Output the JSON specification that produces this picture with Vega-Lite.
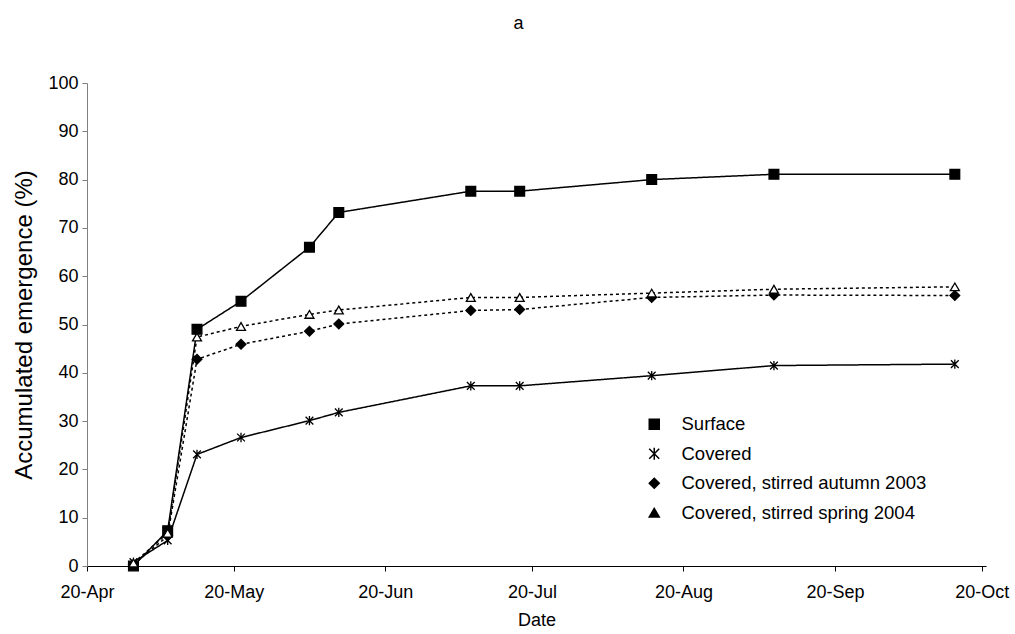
{
  "$schema": "https://vega.github.io/schema/vega-lite/v6.json",
  "autosize": "none",
  "width": 899,
  "height": 483,
  "padding": {"left": 87, "top": 83, "right": 29, "bottom": 68},
  "background": "white",
  "title": {"text": "a", "fontSize": 18, "font": "Liberation Sans", "fontWeight": "normal", "color": "black", "anchor": "middle", "frame": "group", "dx": -18, "offset": 41},
  "config": {
    "view": {"stroke": null},
    "font": "Liberation Sans"
  },
  "data": {
    "values": [
      {"date": "2004-04-29T12:00", "series": "Surface", "value": 0},
      {"date": "2004-05-06T12:00", "series": "Surface", "value": 7.3},
      {"date": "2004-05-12T12:00", "series": "Surface", "value": 49},
      {"date": "2004-05-21T12:00", "series": "Surface", "value": 54.8},
      {"date": "2004-06-04T12:00", "series": "Surface", "value": 66},
      {"date": "2004-06-10T12:00", "series": "Surface", "value": 73.2},
      {"date": "2004-07-07T12:00", "series": "Surface", "value": 77.6},
      {"date": "2004-07-17T12:00", "series": "Surface", "value": 77.6},
      {"date": "2004-08-13T12:00", "series": "Surface", "value": 80},
      {"date": "2004-09-07T12:00", "series": "Surface", "value": 81.1},
      {"date": "2004-10-14T12:00", "series": "Surface", "value": 81.1},
      {"date": "2004-04-29T12:00", "series": "Covered", "value": 0.8},
      {"date": "2004-05-06T12:00", "series": "Covered", "value": 5.3},
      {"date": "2004-05-12T12:00", "series": "Covered", "value": 23.1},
      {"date": "2004-05-21T12:00", "series": "Covered", "value": 26.6},
      {"date": "2004-06-04T12:00", "series": "Covered", "value": 30.1},
      {"date": "2004-06-10T12:00", "series": "Covered", "value": 31.8},
      {"date": "2004-07-07T12:00", "series": "Covered", "value": 37.3},
      {"date": "2004-07-17T12:00", "series": "Covered", "value": 37.3},
      {"date": "2004-08-13T12:00", "series": "Covered", "value": 39.4},
      {"date": "2004-09-07T12:00", "series": "Covered", "value": 41.5},
      {"date": "2004-10-14T12:00", "series": "Covered", "value": 41.8},
      {"date": "2004-04-29T12:00", "series": "Covered, stirred autumn 2003", "value": 0.3},
      {"date": "2004-05-06T12:00", "series": "Covered, stirred autumn 2003", "value": 6.2},
      {"date": "2004-05-12T12:00", "series": "Covered, stirred autumn 2003", "value": 42.8},
      {"date": "2004-05-21T12:00", "series": "Covered, stirred autumn 2003", "value": 45.9},
      {"date": "2004-06-04T12:00", "series": "Covered, stirred autumn 2003", "value": 48.6},
      {"date": "2004-06-10T12:00", "series": "Covered, stirred autumn 2003", "value": 50.1},
      {"date": "2004-07-07T12:00", "series": "Covered, stirred autumn 2003", "value": 52.9},
      {"date": "2004-07-17T12:00", "series": "Covered, stirred autumn 2003", "value": 53.1},
      {"date": "2004-08-13T12:00", "series": "Covered, stirred autumn 2003", "value": 55.6},
      {"date": "2004-09-07T12:00", "series": "Covered, stirred autumn 2003", "value": 56.1},
      {"date": "2004-10-14T12:00", "series": "Covered, stirred autumn 2003", "value": 56.0},
      {"date": "2004-04-29T12:00", "series": "Covered, stirred spring 2004", "value": 0.6},
      {"date": "2004-05-06T12:00", "series": "Covered, stirred spring 2004", "value": 6.8},
      {"date": "2004-05-12T12:00", "series": "Covered, stirred spring 2004", "value": 47.4},
      {"date": "2004-05-21T12:00", "series": "Covered, stirred spring 2004", "value": 49.6},
      {"date": "2004-06-04T12:00", "series": "Covered, stirred spring 2004", "value": 52.1},
      {"date": "2004-06-10T12:00", "series": "Covered, stirred spring 2004", "value": 53.0},
      {"date": "2004-07-07T12:00", "series": "Covered, stirred spring 2004", "value": 55.6},
      {"date": "2004-07-17T12:00", "series": "Covered, stirred spring 2004", "value": 55.6},
      {"date": "2004-08-13T12:00", "series": "Covered, stirred spring 2004", "value": 56.5},
      {"date": "2004-09-07T12:00", "series": "Covered, stirred spring 2004", "value": 57.3},
      {"date": "2004-10-14T12:00", "series": "Covered, stirred spring 2004", "value": 57.8}
    ]
  },
  "encoding": {
    "x": {
      "field": "date", "type": "temporal",
      "scale": {"domain": [{"year": 2004, "month": 4, "date": 20}, {"year": 2004, "month": 10, "date": 20, "hours": 21}]},
      "axis": {
        "title": "Date", "titleFontSize": 18, "titleFontWeight": "normal", "titleColor": "black", "titlePadding": 10,
        "values": [{"year": 2004, "month": 4, "date": 20}, {"year": 2004, "month": 5, "date": 20}, {"year": 2004, "month": 6, "date": 20}, {"year": 2004, "month": 7, "date": 20}, {"year": 2004, "month": 8, "date": 20}, {"year": 2004, "month": 9, "date": 20}, {"year": 2004, "month": 10, "date": 20}],
        "format": "%d-%b", "formatType": "time",
        "grid": false, "domainColor": "black", "domainWidth": 1, "tickColor": "black", "tickSize": 5,
        "labelFontSize": 18, "labelColor": "black", "labelPadding": 12, "labelFlush": false, "labelOverlap": false
      }
    },
    "y": {
      "field": "value", "type": "quantitative",
      "scale": {"domain": [0, 100], "nice": false, "zero": true},
      "axis": {
        "title": "Accumulated emergence (%)", "titleFontSize": 24, "titleFontWeight": "normal", "titleColor": "black", "titlePadding": 11,
        "values": [0, 10, 20, 30, 40, 50, 60, 70, 80, 90, 100],
        "grid": false, "domainColor": "#808080", "domainWidth": 1, "tickColor": "#808080", "tickSize": 5,
        "labelFontSize": 18, "labelColor": "black", "labelPadding": 4
      }
    }
  },
  "layer": [
    {
      "mark": {"type": "line", "color": "black", "strokeWidth": 1.5},
      "encoding": {
        "detail": {"field": "series", "type": "nominal"},
        "strokeDash": {
          "condition": {"test": "indexof(datum.series, 'stirred') >= 0", "value": [3, 3]},
          "value": [1, 0]
        }
      }
    },
    {
      "mark": {"type": "point", "filled": false, "stroke": "black", "strokeWidth": 1.3, "opacity": 1},
      "encoding": {
        "shape": {
          "field": "series", "type": "nominal",
          "scale": {"domain": ["Surface", "Covered", "Covered, stirred autumn 2003", "Covered, stirred spring 2004"], "range": ["square", "M-1,-1L1,1M-1,1L1,-1M0,-1.2L0,1.2", "diamond", "triangle-up"]},
          "legend": {
            "title": null, "orient": "none", "legendX": 558, "legendY": 332,
            "labelFontSize": 18.5, "labelColor": "black", "labelFont": "Liberation Sans", "labelLimit": 400,
            "labelOffset": 18, "rowPadding": 10.5, "symbolSize": 100
          }
        },
        "fill": {
          "condition": {"test": "datum.series === 'Covered, stirred spring 2004'", "value": "white"},
          "value": "black"
        },
        "size": {
          "condition": [
            {"test": "datum.series === 'Covered'", "value": 60},
            {"test": "datum.series === 'Covered, stirred spring 2004'", "value": 80}
          ],
          "value": 95
        }
      }
    }
  ]
}
